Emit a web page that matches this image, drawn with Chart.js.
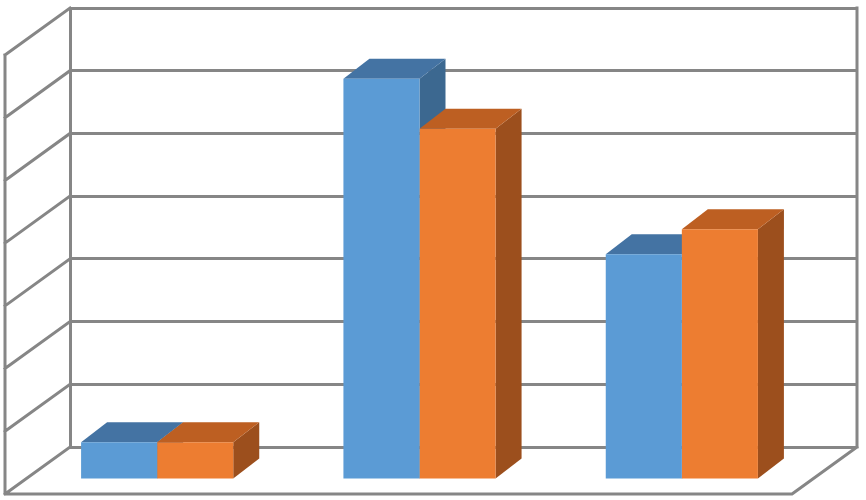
<!DOCTYPE html>
<html>
<head>
<meta charset="utf-8">
<script src="https://cdn.jsdelivr.net/npm/chart.js@4/dist/chart.umd.min.js"></script>
<style>
  html, body { margin: 0; padding: 0; background: #fff; }
  canvas { display: block; }
</style>
</head>
<body>
<canvas id="chart" width="866" height="500"></canvas>
<script>
// Clustered 3-D column chart, no labels. (7 steps).
const categories = ['Category 1', 'Category 2', 'Category 3'];
const seriesBlue = [0.6, 6.4, 3.6];
const seriesOrange = [0.6, 5.6, 4.0];
const yMin = 0;
const yMax = 7;
const yStep = 1;

const GRID = '#868686';
// oblique projection offsets (px)
const WALL_DX = -65, WALL_DY = 47;   // back wall -> front edge of floor / left wall
const BAR_DX = -44, BAR_DY = 33;     // back wall -> front face of the bars
const DEPTH_DX = 26, DEPTH_DY = -20; // bar depth

const walls3d = {
  id: 'walls3d',
  beforeDatasetsDraw(chart) {
    const { ctx, chartArea: a, scales: { y } } = chart;
    ctx.save();
    ctx.strokeStyle = GRID;
    ctx.lineWidth = 3;
    ctx.lineCap = 'square';
    ctx.lineJoin = 'round';
    ctx.beginPath();
    // left wall diagonals, one per grid line
    y.ticks.forEach(t => {
      const py = y.getPixelForValue(t.value);
      ctx.moveTo(a.left, py);
      ctx.lineTo(a.left + WALL_DX, py + WALL_DY);
    });
    // left wall front edge + floor front edge + floor right edge
    ctx.moveTo(a.left + WALL_DX, a.top + WALL_DY);
    ctx.lineTo(a.left + WALL_DX, a.bottom + WALL_DY);
    ctx.lineTo(a.right + WALL_DX, a.bottom + WALL_DY);
    ctx.lineTo(a.right, a.bottom);
    // back wall right edge
    ctx.moveTo(a.right, a.bottom);
    ctx.lineTo(a.right, a.top);
    ctx.stroke();
    ctx.restore();

    // bars live in a plane in front of the back wall
    ctx.save();
    ctx.translate(BAR_DX, BAR_DY);
    chart.data.datasets.forEach((ds, i) => {
      const meta = chart.getDatasetMeta(i);
      meta.data.forEach(el => {
        const { x, y: top, base, width } = el.getProps(['x', 'y', 'base', 'width'], true);
        const l = x - width / 2, r = x + width / 2;
        ctx.fillStyle = ds.sideColor;
        ctx.beginPath();
        ctx.moveTo(r, top);
        ctx.lineTo(r + DEPTH_DX, top + DEPTH_DY);
        ctx.lineTo(r + DEPTH_DX, base + DEPTH_DY);
        ctx.lineTo(r, base);
        ctx.closePath();
        ctx.fill();
        ctx.fillStyle = ds.topColor;
        ctx.beginPath();
        ctx.moveTo(l, top);
        ctx.lineTo(r, top);
        ctx.lineTo(r + DEPTH_DX, top + DEPTH_DY);
        ctx.lineTo(l + DEPTH_DX, top + DEPTH_DY);
        ctx.closePath();
        ctx.fill();
      });
    });
  },
  afterDatasetsDraw(chart) {
    chart.ctx.restore();
  }
};

new Chart(document.getElementById('chart'), {
  type: 'bar',
  data: {
    labels: categories,
    datasets: [
      {
        label: 'Series 1',
        data: seriesBlue,
        backgroundColor: '#5B9BD5',
        topColor: '#4473A3',
        sideColor: '#3C6890',
        borderWidth: 0,
        clip: false,
      },
      {
        label: 'Series 2',
        data: seriesOrange,
        backgroundColor: '#ED7D31',
        topColor: '#BD5F22',
        sideColor: '#9C4F1D',
        borderWidth: 0,
        clip: false,
      },
    ],
  },
  options: {
    responsive: false,
    animation: false,
    events: [],
    layout: { padding: { left: 70, right: 9, top: 8, bottom: 53 } },
    datasets: { bar: { categoryPercentage: 0.58, barPercentage: 1 } },
    scales: {
      x: { display: false },
      y: {
        min: yMin,
        max: yMax,
        ticks: { display: false, stepSize: yStep },
        grid: { color: GRID, lineWidth: 3, drawTicks: false },
        border: { display: true, color: GRID, width: 3 },
      },
    },
    plugins: {
      legend: { display: false },
      tooltip: { enabled: false },
    },
  },
  plugins: [walls3d],
});
</script>
</body>
</html>
